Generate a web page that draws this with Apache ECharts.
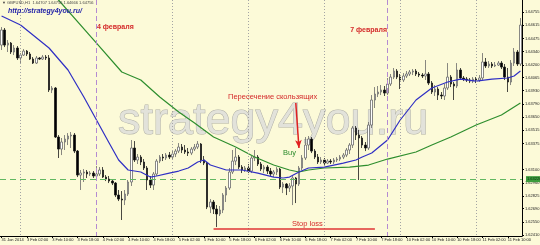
<!DOCTYPE html>
<html><head><meta charset="utf-8">
<script src="https://cdn.jsdelivr.net/npm/echarts@6/dist/echarts.min.js"></script>
<style>html,body{margin:0;padding:0;background:#fcfad8;}#c{width:540px;height:245px;}</style>
</head><body><div id="c"></div>
<script>
// GBPUSD H1 candles (bar 0 = 31 Jan 18:00)
const opens = [1.64408,1.64566,1.64408,1.64429,1.64335,1.64377,1.64272,1.64303,1.64345,1.64314,
1.64261,1.64219,1.64272,1.64261,1.64282,1.64272,1.63936,1.63957,1.63442,1.63316,
1.63390,1.63421,1.63453,1.63463,1.63295,1.63043,1.63064,1.63075,1.63054,1.63064,
1.63033,1.63054,1.63096,1.63022,1.63001,1.62980,1.62959,1.62833,1.62791,1.62781,
1.62844,1.62970,1.63327,1.63201,1.63232,1.63180,1.63117,1.62991,1.62938,1.63054,
1.63190,1.63232,1.63222,1.63253,1.63232,1.63264,1.63295,1.63337,1.63306,1.63285,
1.63274,1.63316,1.63337,1.63369,1.63201,1.63169,1.62707,1.62760,1.62686,1.62634,
1.62676,1.62833,1.62907,1.63075,1.63190,1.63232,1.63127,1.63096,1.63117,1.63085,
1.63222,1.63232,1.63159,1.63106,1.63127,1.63085,1.63054,1.63075,1.63106,1.62917,
1.62949,1.62907,1.62928,1.63012,1.62949,1.63117,1.63222,1.63358,1.63421,1.63295,
1.63232,1.63180,1.63201,1.63169,1.63190,1.63180,1.63201,1.63211,1.63232,1.63253,
1.63306,1.63358,1.63537,1.63463,1.63432,1.63358,1.63327,1.63568,1.63831,1.63894,
1.63915,1.63936,1.63904,1.63999,1.64072,1.64135,1.64072,1.64041,1.64083,1.64104,
1.64125,1.64135,1.64104,1.64093,1.64083,1.64104,1.64009,1.63915,1.63946,1.63883,
1.63873,1.63957,1.64072,1.63999,1.63978,1.64146,1.64062,1.64051,1.64041,1.64030,
1.64051,1.64041,1.64062,1.64230,1.64188,1.64209,1.64188,1.64198,1.64219,1.64177,
1.64072,1.64020,1.64219,1.64335,1.64209];
const highs = [1.64597,1.64587,1.64461,1.64440,1.64408,1.64398,1.64324,1.64366,1.64356,1.64335,
1.64282,1.64293,1.64282,1.64303,1.64303,1.64303,1.63978,1.63967,1.63463,1.63432,
1.63463,1.63484,1.63495,1.63484,1.63306,1.63096,1.63106,1.63096,1.63085,1.63085,
1.63138,1.63127,1.63127,1.63043,1.63033,1.63001,1.62970,1.62886,1.62875,1.62886,
1.62991,1.63411,1.63400,1.63264,1.63253,1.63211,1.63138,1.63033,1.63075,1.63211,
1.63253,1.63264,1.63274,1.63285,1.63306,1.63316,1.63379,1.63369,1.63358,1.63327,
1.63337,1.63369,1.63400,1.63379,1.63243,1.63180,1.62791,1.62781,1.62728,1.62718,
1.62854,1.62928,1.63117,1.63306,1.63327,1.63253,1.63148,1.63138,1.63159,1.63243,
1.63306,1.63253,1.63180,1.63148,1.63148,1.63117,1.63096,1.63127,1.63117,1.62970,
1.62959,1.62959,1.63033,1.63022,1.63138,1.63253,1.63442,1.63453,1.63442,1.63316,
1.63264,1.63232,1.63222,1.63211,1.63211,1.63222,1.63232,1.63253,1.63274,1.63327,
1.63379,1.63558,1.63558,1.63516,1.63453,1.63390,1.63600,1.63883,1.63967,1.63978,
1.63988,1.63978,1.64062,1.64104,1.64167,1.64156,1.64104,1.64114,1.64135,1.64146,
1.64156,1.64156,1.64125,1.64114,1.64251,1.64125,1.64030,1.63988,1.63967,1.63915,
1.63999,1.64219,1.64093,1.64020,1.64219,1.64167,1.64083,1.64072,1.64062,1.64072,
1.64072,1.64093,1.64324,1.64272,1.64240,1.64230,1.64230,1.64240,1.64240,1.64209,
1.64167,1.64251,1.64377,1.64356,1.64692];
const lows = [1.64356,1.64387,1.64335,1.64314,1.64303,1.64251,1.64209,1.64293,1.64293,1.64251,
1.64209,1.64209,1.64251,1.64251,1.64251,1.63915,1.63904,1.63432,1.63222,1.63253,
1.63306,1.63358,1.63327,1.63274,1.63022,1.62886,1.62970,1.63012,1.63033,1.63012,
1.63022,1.63033,1.63012,1.62980,1.62959,1.62938,1.62812,1.62770,1.62571,1.62728,
1.62823,1.62928,1.63180,1.63159,1.63148,1.63096,1.62886,1.62907,1.62886,1.63033,
1.63169,1.63190,1.63201,1.63211,1.63211,1.63232,1.63274,1.63274,1.63264,1.63243,
1.63253,1.63295,1.63316,1.63169,1.63148,1.62686,1.62644,1.62634,1.62497,1.62613,
1.62644,1.62760,1.62886,1.63054,1.63148,1.63106,1.63064,1.63075,1.63064,1.63064,
1.63190,1.63138,1.63085,1.63064,1.63054,1.63033,1.63022,1.63043,1.62896,1.62854,
1.62833,1.62865,1.62728,1.62749,1.62928,1.63096,1.63201,1.63306,1.63274,1.63211,
1.63159,1.63159,1.63148,1.63159,1.63159,1.63159,1.63180,1.63190,1.63211,1.63232,
1.63264,1.63327,1.63411,1.62991,1.63327,1.63295,1.63306,1.63537,1.63747,1.63862,
1.63883,1.63873,1.63883,1.63978,1.64051,1.64051,1.63946,1.64020,1.64062,1.64083,
1.64093,1.64083,1.64072,1.64062,1.64041,1.63988,1.63894,1.63873,1.63831,1.63841,
1.63831,1.63936,1.63967,1.63831,1.63957,1.64041,1.64030,1.64020,1.64009,1.64009,
1.64009,1.64020,1.64041,1.64167,1.64167,1.64167,1.64177,1.64188,1.64156,1.64041,
1.63915,1.63988,1.64188,1.64188,1.64188];
const closes = [1.64566,1.64408,1.64429,1.64335,1.64377,1.64272,1.64303,1.64345,1.64314,1.64261,
1.64219,1.64272,1.64261,1.64282,1.64272,1.63936,1.63957,1.63442,1.63316,1.63390,
1.63421,1.63453,1.63463,1.63295,1.63043,1.63064,1.63075,1.63054,1.63064,1.63033,
1.63054,1.63096,1.63022,1.63001,1.62980,1.62959,1.62833,1.62791,1.62781,1.62844,
1.62970,1.63327,1.63201,1.63232,1.63180,1.63117,1.62991,1.62938,1.63054,1.63190,
1.63232,1.63222,1.63253,1.63232,1.63264,1.63295,1.63337,1.63306,1.63285,1.63274,
1.63316,1.63337,1.63369,1.63201,1.63169,1.62707,1.62760,1.62686,1.62634,1.62676,
1.62833,1.62907,1.63075,1.63190,1.63232,1.63127,1.63096,1.63117,1.63085,1.63222,
1.63232,1.63159,1.63106,1.63127,1.63085,1.63054,1.63075,1.63106,1.62917,1.62949,
1.62907,1.62928,1.63012,1.62949,1.63117,1.63222,1.63358,1.63421,1.63295,1.63232,
1.63180,1.63201,1.63169,1.63190,1.63180,1.63201,1.63211,1.63232,1.63253,1.63306,
1.63358,1.63537,1.63463,1.63432,1.63358,1.63327,1.63568,1.63831,1.63894,1.63915,
1.63936,1.63904,1.63999,1.64072,1.64135,1.64072,1.64041,1.64083,1.64104,1.64125,
1.64135,1.64104,1.64093,1.64083,1.64104,1.64009,1.63915,1.63946,1.63883,1.63873,
1.63957,1.64072,1.63999,1.63978,1.64146,1.64062,1.64051,1.64041,1.64030,1.64051,
1.64041,1.64062,1.64230,1.64188,1.64209,1.64188,1.64198,1.64219,1.64177,1.64072,
1.64020,1.64219,1.64335,1.64209,1.64618];

// moving averages: [bar index, price]
const fastMA = [[0,1.64713],[6,1.64618],[15,1.64377],[21,1.64146],[26,1.63862],[30,1.63621],
[34,1.63379],[37,1.63201],[40,1.63096],[44,1.63075],[47,1.63022],[49,1.63033],[53,1.63064],
[56,1.63085],[59,1.63117],[62,1.63180],[64,1.63201],[66,1.63148],[71,1.63096],[76,1.63096],
[81,1.63064],[86,1.63022],[89,1.63012],[91,1.63022],[94,1.63075],[97,1.63117],[102,1.63127],
[108,1.63169],[112,1.63201],[114,1.63232],[117,1.63274],[122,1.63411],[126,1.63621],
[131,1.63831],[136,1.63957],[141,1.64020],[145,1.64051],[150,1.64030],[155,1.64051],
[160,1.64062],[162,1.64083],[164,1.64135]];
const slowMA = [[0,1.65532],[18,1.64881],[30,1.64429],[38,1.64125],[44,1.64041],[50,1.63862],
[56,1.63705],[61,1.63589],[67,1.63442],[74,1.63337],[80,1.63232],[86,1.63148],[91,1.63096],
[94,1.63075],[97,1.63096],[102,1.63117],[110,1.63127],[116,1.63148],[122,1.63211],
[131,1.63285],[136,1.63358],[142,1.63442],[150,1.63568],[158,1.63673],[164,1.63799]];

const xTickLabels = ["31 Jan 2014","3 Feb 02:00","3 Feb 10:00","3 Feb 18:00","4 Feb 02:00","4 Feb 10:00",
"4 Feb 18:00","5 Feb 02:00","5 Feb 10:00","5 Feb 18:00","6 Feb 02:00","6 Feb 10:00","6 Feb 18:00",
"7 Feb 02:00","7 Feb 10:00","7 Feb 18:00","10 Feb 02:00","10 Feb 10:00","10 Feb 18:00",
"11 Feb 02:00","11 Feb 10:00"];
const priceTicks = [1.64755,1.64615,1.64475,1.64340,1.64200,1.64065,1.63930,1.63790,1.63650,
1.63515,1.63375,1.63100,1.62960,1.62825,1.62690,1.62550,1.62410];

const priceMin = 1.62403, priceMax = 1.64881;
const levelPrice = 1.63220;          // green dashed "Buy" level
const stopLossPrice = 1.62476;       // red stop loss line
const stopLossBars = [67, 118];
const arrowFrom = [93, 1.63799];
const arrowTo = [94, 1.63327];
const daySeparators = [6, 54, 78, 102, 126, 150];
const markedDays = [30, 122];

const categories = opens.map((_, i) => String(i));
const candles = opens.map((o, i) => [o, closes[i], lows[i], highs[i]]);

const FONT = 'Liberation Sans, Arial, sans-serif';
const RED = '#d42a2a';

const chart = echarts.init(document.getElementById('c'), null, {renderer: 'canvas'});

function vLine(b, style) {
  return [{coord: [b, priceMax], lineStyle: style}, {coord: [b, priceMin]}];
}
const vLines = daySeparators.map(b => vLine(b, {color: '#a4a4a4', type: [1, 2], width: 1}))
  .concat(markedDays.map(b => vLine(b, {color: '#b48ad2', type: [5, 3], width: 1})));

chart.setOption({
  animation: false,
  backgroundColor: '#fcfad8',
  tooltip: {show: false},
  axisPointer: {show: false},
  grid: {left: 0, right: 18, top: 0, bottom: 9, containLabel: false, outerBoundsMode: 'none'},
  xAxis: {
    type: 'category', data: categories, boundaryGap: true,
    axisLine: {show: true, lineStyle: {color: '#000', width: 1}},
    axisTick: {show: true, length: 2, alignWithLabel: true, interval: (i) => i % 8 === 0, lineStyle: {color: '#000'}},
    axisLabel: {
      show: true, interval: (i) => i % 8 === 0, align: 'left', margin: 2,
      fontSize: 4, fontFamily: FONT, color: '#222', hideOverlap: false,
      formatter: (v, i) => xTickLabels[Math.round(i / 8)] || ''
    },
    splitLine: {show: false},
    minorSplitLine: {show: false},
    splitArea: {show: false}
  },
  yAxis: {
    type: 'value', position: 'right', min: priceMin, max: priceMax, scale: true,
    axisLine: {show: true, lineStyle: {color: '#000', width: 1}},
    axisTick: {show: true, length: 2, customValues: priceTicks, lineStyle: {color: '#000'}},
    axisLabel: {show: true, customValues: priceTicks, margin: 3, fontSize: 4, fontFamily: FONT, color: '#222',
      formatter: v => v.toFixed(5)},
    splitLine: {show: false},
    splitArea: {show: false}
  },
  series: [
    {
      type: 'candlestick', data: candles, barWidth: 2,
      itemStyle: {color: '#ffffff', color0: '#000000', borderColor: '#6a6a6a', borderColor0: '#1a1a1a', borderWidth: 0.8},
      markLine: {
        silent: true, symbol: ['none', 'none'], animation: false,
        label: {show: false},
        data: vLines.concat([
          {yAxis: levelPrice, lineStyle: {color: '#62b862', type: [6, 4], width: 1},
            label: {show: true, position: 'end', distance: 4, formatter: levelPrice.toFixed(5),
              fontSize: 4, fontFamily: FONT, color: '#0c2a0c', backgroundColor: '#3c9c3c', padding: [1, 1]}},
          [{coord: [stopLossBars[0], stopLossPrice], lineStyle: {color: '#e03434', width: 1.5, type: 'solid'}},
           {coord: [stopLossBars[1], stopLossPrice]}]
        ])
      },
      z: 2
    },
    {
      type: 'line', data: slowMA, showSymbol: false, symbol: 'none', smooth: false, clip: true,
      lineStyle: {color: '#2e8e2e', width: 1.2}, z: 3
    },
    {
      type: 'line', data: fastMA, showSymbol: false, symbol: 'none', smooth: false, clip: true,
      lineStyle: {color: '#2f2fc4', width: 1.2}, z: 4,
      markLine: {
        silent: true, symbol: ['none', 'arrow'], symbolSize: [5, 8], label: {show: false},
        data: [[{coord: arrowFrom, lineStyle: {color: '#e02020', width: 1.5, type: 'solid'}}, {coord: arrowTo}]]
      }
    }
  ],
  graphic: [
    {type: 'text', x: 118, y: 122, z: 1, style: {text: 'strategy4you.ru',
      font: '45px ' + FONT, fill: '#e2e2da', stroke: '#aeaea6', lineWidth: 1,
      shadowColor: 'rgba(0,0,0,0.35)', shadowBlur: 2, shadowOffsetX: 2, shadowOffsetY: 2,
      verticalAlign: 'middle', textVerticalAlign: 'middle'}},
    {type: 'text', x: 2, y: 3, z: 100, style: {text: '\u25BC GBPUSD,H1  1.64707 1.64756 1.64666 1.64756',
      font: '4px ' + FONT, fill: '#444', verticalAlign: 'middle', textVerticalAlign: 'middle'}},
    {type: 'text', x: 8, y: 11, z: 100, style: {text: 'http://strategy4you.ru/',
      font: 'italic bold 7px ' + FONT, fill: '#2424a8', verticalAlign: 'middle', textVerticalAlign: 'middle'}},
    {type: 'text', x: 97, y: 27, z: 100, style: {text: '4 февраля',
      font: 'bold 7px ' + FONT, fill: RED, verticalAlign: 'middle', textVerticalAlign: 'middle'}},
    {type: 'text', x: 387, y: 30, z: 100, style: {text: '7 февраля', align: 'right', textAlign: 'right',
      font: 'bold 7px ' + FONT, fill: RED, verticalAlign: 'middle', textVerticalAlign: 'middle'}},
    {type: 'text', x: 228, y: 97, z: 100, style: {text: 'Пересечение скользящих',
      font: '7.5px ' + FONT, fill: RED, verticalAlign: 'middle', textVerticalAlign: 'middle'}},
    {type: 'text', x: 283, y: 153, z: 100, style: {text: 'Buy',
      font: '7.5px ' + FONT, fill: '#2a8a2a', verticalAlign: 'middle', textVerticalAlign: 'middle'}},
    {type: 'text', x: 292, y: 224, z: 100, style: {text: 'Stop loss',
      font: '7.5px ' + FONT, fill: RED, verticalAlign: 'middle', textVerticalAlign: 'middle'}}
  ]
});
</script></body></html>
